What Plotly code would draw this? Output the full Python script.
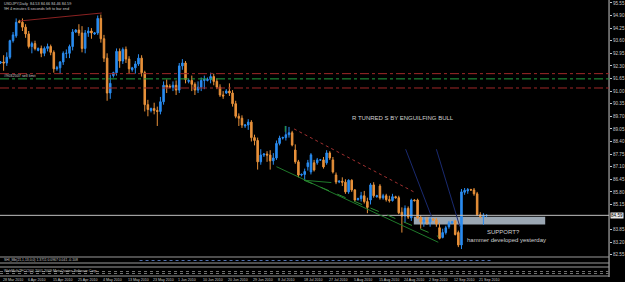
import plotly.graph_objects as go

# ---------------- data ----------------
opens = [92.45,92.50,92.45,92.75,93.60,93.85,94.60,94.55,94.30,93.95,
         93.30,93.45,93.10,93.20,92.95,93.20,93.30,93.00,92.15,92.20,
         92.50,92.95,92.95,93.30,94.05,94.15,94.00,93.20,94.00,94.10,
         93.95,94.00,94.75,93.70,92.70,90.90,91.80,91.95,93.05,92.55,
         93.15,92.65,92.10,92.20,92.40,92.70,91.95,90.30,90.00,90.10,
         90.00,89.95,90.45,91.30,91.25,91.20,91.30,91.05,92.30,92.45,
         91.50,91.55,91.35,91.05,91.20,91.55,91.55,91.60,91.75,91.50,
         91.20,90.80,90.90,91.00,90.90,90.35,89.70,89.60,89.20,89.25,
         89.40,88.60,88.45,87.35,87.70,87.75,87.70,87.40,87.55,
         88.30,88.58,88.60,88.75,88.85,87.96,87.35,86.67,86.70,87.10,
         86.83,87.30,87.30,87.45,87.45,87.30,87.81,87.45,86.67,86.31,
         86.35,86.30,85.80,86.40,85.90,85.40,85.45,85.60,85.30,85.38,
         86.16,85.55,86.10,85.49,85.60,85.40,85.35,85.55,85.50,84.75,
         84.55,84.95,84.46,85.38,85.38,84.46,84.25,84.35,84.25,84.40,
         84.35,83.95,83.45,83.70,84.00,84.20,84.30,83.70,83.06,85.78,
         85.85,85.92,85.90,85.70,84.62,84.52,84.58]
highs = [92.55,92.85,93.00,93.65,94.05,94.75,94.68,94.75,94.45,94.10,
         93.55,93.60,93.25,93.35,93.30,93.45,93.40,93.10,92.30,92.55,
         93.05,93.15,93.40,94.20,94.20,94.45,94.35,94.15,94.30,94.25,
         94.05,94.90,94.95,93.90,92.95,91.85,92.00,93.20,93.20,93.25,
         93.30,92.80,92.25,92.55,92.90,92.85,92.05,90.55,90.15,90.40,
         90.20,90.70,91.50,91.60,91.35,91.50,91.55,92.45,92.65,92.55,
         91.65,91.80,91.45,91.50,91.70,91.80,91.70,91.95,91.90,91.65,
         91.35,91.00,91.10,91.40,91.05,90.50,89.85,89.75,89.30,89.55,
         89.50,88.75,88.60,88.00,87.80,87.90,87.95,87.80,88.45,
         88.70,88.65,89.20,89.15,88.95,88.25,87.45,86.75,87.00,87.45,
         87.80,87.45,87.55,87.50,87.60,87.95,87.90,87.60,86.80,86.40,
         86.55,86.45,86.45,86.45,85.95,85.50,85.80,85.85,85.50,86.25,
         86.30,85.65,86.20,85.70,85.70,85.60,85.70,85.60,85.60,85.00,
         85.10,85.05,85.45,85.42,85.45,84.60,84.50,84.50,84.50,84.45,
         84.45,84.20,83.90,84.05,84.30,84.30,84.35,83.80,85.95,86.00,
         86.00,85.96,86.00,85.80,84.75,84.70,84.64]
lows = [92.40,92.05,92.30,92.65,93.50,93.75,94.50,94.10,93.75,93.20,
        92.95,93.10,93.05,92.75,92.80,93.05,92.85,91.95,92.05,91.90,
        92.35,92.70,92.70,93.10,94.00,93.85,93.00,92.95,93.80,93.70,
        93.90,93.90,93.50,92.50,90.50,90.60,91.70,91.80,92.20,92.40,
        92.45,91.90,92.00,91.90,92.30,91.75,89.95,89.70,89.90,89.80,
        89.20,89.80,90.30,90.90,91.15,91.00,90.80,90.90,92.10,91.40,
        91.40,91.00,90.80,90.90,91.00,91.10,91.50,91.40,91.30,91.10,
        90.70,90.60,90.85,90.75,90.20,89.60,89.20,89.10,89.10,89.00,
        88.40,88.20,86.95,87.20,87.60,87.35,86.95,87.20,87.45,
        88.20,88.50,88.45,88.60,88.15,87.25,86.55,86.60,86.40,86.90,
        86.70,86.85,87.20,87.40,87.00,87.20,87.45,86.75,86.20,86.25,
        86.10,85.70,85.70,85.80,85.30,85.35,85.30,85.20,84.70,85.15,
        85.50,85.50,85.40,85.40,85.30,85.25,85.30,85.45,84.65,83.70,
        84.20,84.40,84.30,85.30,84.40,83.90,84.00,84.10,84.00,84.30,
        84.00,83.35,83.40,83.60,83.90,84.15,83.55,82.95,82.85,85.65,
        85.70,85.85,85.60,84.55,84.45,84.10,84.50]
closes = [92.50,92.45,92.75,93.60,93.90,94.55,94.55,94.30,93.95,93.30,
          93.45,93.20,93.20,92.95,93.20,93.30,93.00,92.15,92.20,92.50,
          92.95,92.95,93.30,94.05,94.15,94.00,93.20,94.00,94.10,94.00,
          94.00,94.75,93.70,92.70,90.90,91.40,91.95,93.05,92.55,93.15,
          92.65,92.15,92.20,92.40,92.70,91.95,90.30,90.05,90.10,90.00,
          89.95,90.45,91.30,91.20,91.20,91.30,91.05,92.30,92.45,91.60,
          91.55,91.35,91.05,91.20,91.55,91.60,91.60,91.75,91.50,91.20,
          90.80,90.75,91.00,90.90,90.35,89.70,89.60,89.25,89.25,89.40,
          88.60,88.45,87.35,87.70,87.75,87.70,87.40,87.55,88.30,
          88.58,88.60,88.75,88.85,88.22,87.35,86.67,86.70,86.85,87.30,
          87.71,86.93,87.45,87.45,87.09,87.81,87.55,86.83,86.31,86.35,
          86.30,85.80,86.40,85.90,85.38,85.45,85.60,85.30,85.00,86.16,
          85.60,85.60,85.49,85.60,85.40,85.35,85.55,85.50,84.72,84.55,
          84.95,84.50,85.38,85.35,84.46,84.25,84.35,84.25,84.40,84.35,
          84.15,83.40,83.70,83.95,84.20,84.25,83.60,83.06,85.80,85.88,
          85.92,85.90,85.70,84.62,84.52,84.60,84.59]

date_ticks = ["28 Mar 2010", "6 Apr 2010", "15 Apr 2010", "25 Apr 2010", "4 May 2010", "13 May 2010", "23 May 2010",
              "1 Jun 2010", "10 Jun 2010", "20 Jun 2010", "29 Jun 2010", "8 Jul 2010", "18 Jul 2010", "27 Jul 2010",
              "5 Aug 2010", "15 Aug 2010", "24 Aug 2010", "2 Sep 2010", "12 Sep 2010", "21 Sep 2010"]
date_tick_bars = [0, 8, 16, 24, 32, 40, 48, 56, 64, 72, 80, 88, 96, 104, 112, 120, 128, 136, 144, 152]
price_ticks = [82.55, 83.20, 83.85, 85.15, 85.80, 86.45, 87.10, 87.75, 88.40, 89.05, 89.70,
               90.35, 91.00, 91.65, 92.30, 92.95, 93.60, 94.25, 94.90, 95.55]
bars = list(range(len(closes)))
current_price = 84.59
order_levels = [91.90, 91.63, 91.16]

# ---------------- figure ----------------
W, H = 625, 282
AX_X = 611
x_dom = AX_X / W
BLUE = "#2a8cf0"
ORANGE = "#e8913a"
FG = "#c8c8c8"

def py(px):  # paper y from pixel y
    return 1 - px / H

fig = go.Figure()
fig.add_trace(go.Candlestick(
    x=bars, open=opens, high=highs, low=lows, close=closes,
    increasing=dict(line=dict(color=BLUE, width=1), fillcolor=BLUE),
    decreasing=dict(line=dict(color=ORANGE, width=1), fillcolor=ORANGE),
    whiskerwidth=0, showlegend=False, hoverinfo="skip"))

xr = [-0.16, 194.06]
yr = [82.44, 95.70]
fig.update_layout(
    width=W, height=H, margin=dict(l=0, r=0, t=0, b=0),
    paper_bgcolor="black", plot_bgcolor="black", showlegend=False,
    font=dict(family="Liberation Sans, Arial, sans-serif", color=FG, size=5),
    xaxis=dict(domain=[0, x_dom], range=xr, showgrid=False, zeroline=False, showticklabels=False,
               ticks="", rangeslider=dict(visible=False), fixedrange=True),
    yaxis=dict(domain=[py(257), 1], range=yr, side="right", showgrid=False, zeroline=False,
               tickvals=price_ticks, ticktext=[f"{v:.2f}" for v in price_ticks],
               ticks="outside", ticklen=2, tickcolor=FG, tickfont=dict(size=4.6, color=FG),
               showline=False, fixedrange=True),
)

shapes = []
# right axis line
shapes.append(dict(type="line", xref="paper", yref="paper", x0=x_dom, x1=x_dom, y0=py(277), y1=1,
                   line=dict(color=FG, width=1)))
# pane separators
for yy in [257, 263, 267, 276]:
    shapes.append(dict(type="line", xref="paper", yref="paper", x0=0, x1=x_dom, y0=py(yy), y1=py(yy),
                       line=dict(color="#9a9a9a", width=1)))
# indicator dotted rows
for yy in [271.5, 273.5]:
    shapes.append(dict(type="line", xref="paper", yref="paper", x0=0, x1=x_dom, y0=py(yy), y1=py(yy),
                       line=dict(color="#707070", width=1, dash="dot")))
shapes.append(dict(type="line", xref="paper", yref="paper", x0=140 / W, x1=495 / W, y0=py(260.5), y1=py(260.5),
                   line=dict(color="#5070b0", width=1, dash="dot")))
# order lines
for lvl, col in zip(order_levels, ["#a02828", "#22a040", "#a02828"]):
    shapes.append(dict(type="line", xref="x", yref="y", x0=xr[0], x1=xr[1], y0=lvl, y1=lvl,
                       line=dict(color=col, width=1, dash="dashdot")))
# support zone
shapes.append(dict(type="rect", xref="x", yref="y", x0=131.8, x1=173.7, y0=84.12, y1=84.52,
                   fillcolor="#9aa6b2", line=dict(width=0), layer="below"))
# bid line
shapes.append(dict(type="line", xref="x", yref="y", x0=xr[0], x1=xr[1], y0=current_price, y1=current_price,
                   line=dict(color="#c0c0c0", width=1)))
# trendlines
shapes.append(dict(type="line", xref="x", yref="y", x0=6.2, y0=94.62, x1=32.3, y1=95.03,
                   line=dict(color="#8b2222", width=1)))
shapes.append(dict(type="line", xref="x", yref="y", x0=93.6, y0=89.05, x1=131.8, y1=85.80,
                   line=dict(color="#a03030", width=1, dash="dot")))
shapes.append(dict(type="line", xref="x", yref="y", x0=88.0, y0=87.10, x1=139.6, y1=83.20,
                   line=dict(color="#1f7a2a", width=1)))
shapes.append(dict(type="line", xref="x", yref="y", x0=96.8, y0=86.40, x1=105.5, y1=86.28,
                   line=dict(color="#1f7a2a", width=1)))
shapes.append(dict(type="line", xref="x", yref="y", x0=96.8, y0=86.40, x1=139.6, y1=83.50,
                   line=dict(color="#2a8a30", width=1, dash="dash")))
shapes.append(dict(type="line", xref="x", yref="y", x0=129.2, y0=88.0, x1=137.5, y1=84.5,
                   line=dict(color="#1a2a70", width=1)))
shapes.append(dict(type="line", xref="x", yref="y", x0=139.0, y0=88.0, x1=146.5, y1=84.0,
                   line=dict(color="#1a2a70", width=1)))
shapes.append(dict(type="line", xref="x", yref="y", x0=90.8, y0=89.20, x1=90.8, y1=88.90,
                   line=dict(color="#22a040", width=1)))
fig.update_layout(shapes=shapes)

ann = []
for b, t in zip(date_tick_bars, date_ticks):
    ann.append(dict(x=b, xref="x", y=py(279.5), yref="paper", text=t, showarrow=False,
                    xanchor="left", yanchor="middle", font=dict(size=3.6, color=FG)))
ann.append(dict(x=0.004, xref="paper", y=py(3.5), yref="paper", text="USDJPY,Daily  84.53 84.66 84.46 84.59",
                showarrow=False, xanchor="left", yanchor="middle", font=dict(size=3.8, color=FG)))
ann.append(dict(x=0.004, xref="paper", y=py(8.5), yref="paper", text="9H 4 minutes 6 seconds left to bar end",
                showarrow=False, xanchor="left", yanchor="middle", font=dict(size=3.8, color=FG)))
ann.append(dict(x=0.004, xref="paper", y=py(76), yref="paper", text="#9032507 sell limit",
                showarrow=False, xanchor="left", yanchor="middle", font=dict(size=3.8, color=FG)))
ann.append(dict(x=0.004, xref="paper", y=py(260.3), yref="paper",
                text="SHI_Mb(21,1,13,0,0) 1.3711 0.0967 0.041 -0.108",
                showarrow=False, xanchor="left", yanchor="middle", font=dict(size=3.4, color=FG)))
ann.append(dict(x=0.004, xref="paper", y=py(270.5), yref="paper",
                text="WebMultiTFCCI(0) 2001-2009 MetaQuotes Software Corp.",
                showarrow=False, xanchor="left", yanchor="middle", font=dict(size=3.6, color=FG)))
ann.append(dict(x=111.5, xref="x", y=89.60, yref="y", text="R TUNRED S BY ENGUILFING BULL",
                showarrow=False, xanchor="left", yanchor="middle", font=dict(size=6, color="#d0d0d0")))
ann.append(dict(x=154.5, xref="x", y=83.75, yref="y", text="SUPPORT?",
                showarrow=False, xanchor="left", yanchor="middle", font=dict(size=6, color="#d0d0d0")))
ann.append(dict(x=148.0, xref="x", y=83.30, yref="y", text="hammer developed yesterday",
                showarrow=False, xanchor="left", yanchor="middle", font=dict(size=6, color="#d0d0d0")))
ann.append(dict(x=x_dom, xref="paper", y=current_price, yref="y", text=f"{current_price:.2f}",
                showarrow=False, xanchor="left", yanchor="middle", xshift=1,
                bgcolor="#e8e8e8", font=dict(size=4.6, color="black"), borderpad=0))
fig.update_layout(annotations=ann)

fig.write_html("out.html")
